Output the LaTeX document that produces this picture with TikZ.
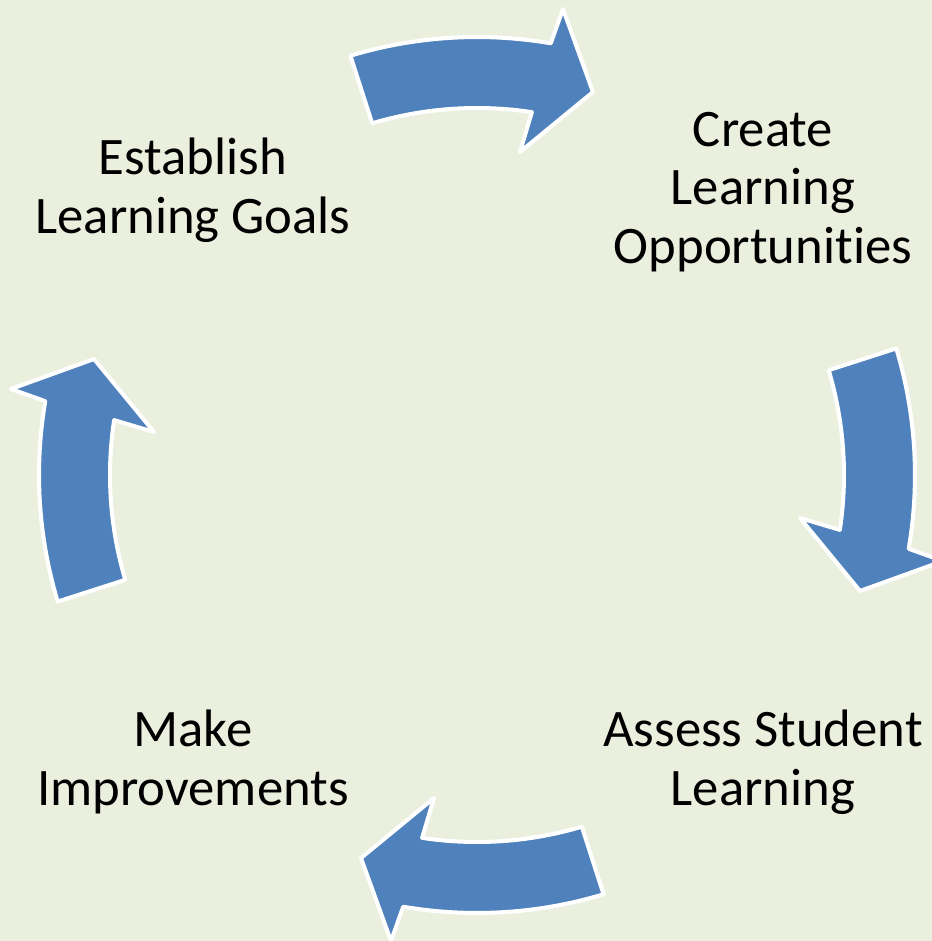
\documentclass[tikz,border=0pt]{standalone}
\usepackage{fontspec}
\setmainfont{Carlito}[Ligatures=NoCommon]
\usepackage{tikz}
\definecolor{bgcol}{rgb}{0.922,0.937,0.871}
\definecolor{arrblue}{rgb}{0.31,0.506,0.741}
\begin{document}
\begin{tikzpicture}[line cap=round,line join=round,x=0.02cm,y=0.02cm]
\tikzset{steptext/.style={align=center,font=\fontsize{30}{33.5}\selectfont,text=black}}
% background, origin is the middle of the cycle
\fill[bgcol] (-477,-466) rectangle (455,475);
\useasboundingbox (-477,-466) rectangle (455,475);
% the four curved arrows, one shape turned round
\foreach \ang in {0,-90,-180,-270}{
\draw[rotate=\ang,color=white,fill=arrblue,line width=2.3pt] (106.8:438) arc (106.8:80.3:438) -- (86,466) -- (116,383) -- (43,323) -- (81.4:367) arc (81.4:106.6:367) -- cycle;
}
\node[steptext] (goals) at (-284,285) {Establish\\Learning Goals};
\node[steptext] (create) at (286,283) {Create\\Learning\\Opportunities};
\node[steptext] (assess) at (286,-287) {Assess Student\\Learning};
\node[steptext] (improve) at (-284,-287) {Make\\Improvements};
\end{tikzpicture}
\end{document}
